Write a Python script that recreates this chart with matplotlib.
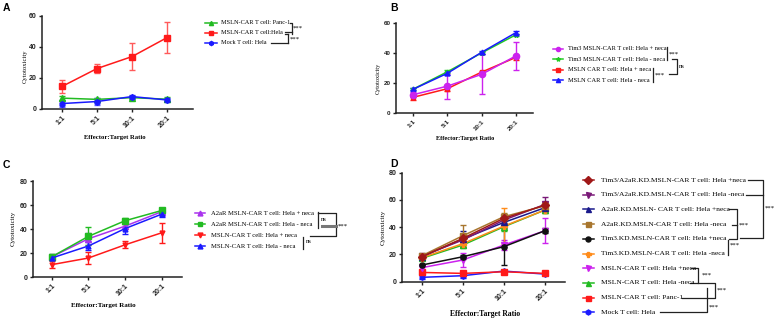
import matplotlib
matplotlib.use("Agg")
import matplotlib.pyplot as plt
from matplotlib.lines import Line2D

W, H = 779, 322
SERIF = "Liberation Serif"
SANS = "Liberation Sans"

ratios = ["1:1", "5:1", "10:1", "20:1"]

# ---- Panel A ----
a_labels = ["MSLN-CAR T cell: Panc-1", "MSLN-CAR T cell:Hela", "Mock T cell: Hela"]
a_panc = [7.0, 6.2, 7.3, 6.3]
a_panc_err = [1.2, 1.0, 0.8, 1.2]
a_hela = [14.5, 26.0, 33.7, 45.9]
a_hela_err = [4.2, 2.8, 8.9, 9.8]
a_mock = [3.5, 4.8, 8.0, 5.8]
a_mock_err = [2.0, 2.2, 0.8, 1.5]

# ---- Panel B ----
b_labels = ["Tim3 MSLN-CAR T cell: Hela + neca", "Tim3 MSLN-CAR T cell: Hela - neca",
            "MSLN CAR T cell: Hela + neca", "MSLN CAR T cell: Hela - neca"]
b_tim3_pos = [12.3, 18.0, 25.8, 38.0]
b_tim3_pos_err = [1.8, 8.2, 13.2, 9.0]
b_tim3_neg = [16.0, 27.5, 40.0, 52.0]
b_tim3_neg_err = [0.8, 1.0, 0.8, 0.8]
b_msln_pos = [10.6, 16.3, 27.3, 37.0]
b_msln_pos_err = [1.5, 1.5, 1.0, 1.5]
b_msln_neg = [15.9, 26.5, 40.4, 53.4]
b_msln_neg_err = [0.8, 1.0, 0.8, 0.8]

# ---- Panel C ----
c_labels = ["A2aR MSLN-CAR T cell: Hela + neca", "A2aR MSLN-CAR T cell: Hela - neca",
            "MSLN-CAR T cell: Hela + neca", "MSLN-CAR T cell: Hela - neca"]
c_a2ar_pos = [17.0, 32.0, 42.5, 54.5]
c_a2ar_pos_err = [2.0, 5.0, 2.0, 2.0]
c_a2ar_neg = [17.0, 34.0, 47.0, 55.5]
c_a2ar_neg_err = [2.5, 7.5, 2.5, 2.0]
c_msln_pos = [10.5, 16.0, 27.0, 37.0]
c_msln_pos_err = [3.0, 5.0, 3.0, 8.5]
c_msln_neg = [16.0, 26.0, 40.5, 52.5]
c_msln_neg_err = [2.0, 3.5, 4.5, 2.0]

# ---- Panel D ----
d_labels = ["Tim3/A2aR.KD.MSLN-CAR T cell: Hela +neca",
            "Tim3/A2aR.KD.MSLN-CAR T cell: Hela -neca",
            "A2aR.KD.MSLN- CAR T cell: Hela +neca",
            "A2aR.KD.MSLN-CAR T cell: Hela -neca",
            "Tim3.KD.MSLN-CAR T cell: Hela +neca",
            "Tim3.KD.MSLN-CAR T cell: Hela -neca",
            "MSLN-CAR T cell: Hela +neca",
            "MSLN-CAR T cell: Hela -neca",
            "MSLN-CAR T cell: Panc-1",
            "Mock T cell: Hela"]
d_tim3a2ar_pos = [18.3, 31.8, 46.5, 56.2]
d_tim3a2ar_pos_err = [1.5, 2.5, 2.0, 2.5]
d_tim3a2ar_neg = [18.8, 30.6, 45.2, 56.7]
d_tim3a2ar_neg_err = [1.5, 2.5, 2.0, 5.5]
d_a2ar_pos = [18.3, 31.3, 43.5, 54.3]
d_a2ar_pos_err = [1.5, 6.0, 2.0, 2.5]
d_a2ar_neg = [19.0, 33.7, 47.7, 55.7]
d_a2ar_neg_err = [1.5, 8.0, 3.0, 2.5]
d_tim3_pos = [12.2, 18.3, 25.7, 37.4]
d_tim3_pos_err = [1.0, 1.5, 13.5, 2.0]
d_tim3_neg = [17.6, 27.9, 40.8, 52.6]
d_tim3_neg_err = [1.5, 2.0, 13.0, 2.0]
d_msln_pos = [10.3, 15.9, 26.9, 37.4]
d_msln_pos_err = [1.0, 5.0, 4.0, 9.0]
d_msln_neg = [17.1, 26.9, 40.3, 52.6]
d_msln_neg_err = [1.5, 2.5, 3.0, 2.0]
d_panc = [6.8, 6.1, 7.3, 6.1]
d_panc_err = [1.0, 1.0, 0.8, 0.8]
d_mock = [3.2, 4.4, 7.8, 5.6]
d_mock_err = [1.5, 2.0, 1.0, 1.0]

fig = plt.figure(figsize=(W / 100, H / 100), dpi=100)


def make_ax(l, r, t, b, xlim, ylim, yticks, tick_fs=5.0):
    ax = fig.add_axes([l / W, 1 - b / H, (r - l) / W, (b - t) / H])
    ax.set_xlim(*xlim)
    ax.set_ylim(*ylim)
    for s in ["top", "right"]:
        ax.spines[s].set_visible(False)
    for s in ["left", "bottom"]:
        ax.spines[s].set_linewidth(1.1)
        ax.spines[s].set_color("#222222")
    ax.set_yticks(yticks)
    ax.set_xticks(range(len(ratios)))
    ax.set_xticklabels(ratios, rotation=45, ha="right", rotation_mode="anchor")
    ax.tick_params(axis="both", direction="out", length=2.5, width=1.0,
                   labelsize=tick_fs, pad=1.5, colors="#222222")
    for lab in ax.get_xticklabels() + ax.get_yticklabels():
        lab.set_fontfamily(SANS)
        lab.set_fontweight("bold")
    ax.patch.set_alpha(0)
    return ax


x = list(range(len(ratios)))


def series(ax, y, e, color, marker, ms=4, ecolor=None, mfc=None):
    ax.errorbar(x, y, yerr=e, color=color, marker=marker, ms=ms, lw=1.1,
                ecolor=ecolor or color, elinewidth=1.0, capsize=2, capthick=1.0,
                mfc=mfc or color, mec=color, zorder=3)


# Panel A
axA = make_ax(42, 193, 15.7, 109, (-0.571, 3.743), (0, 60), [0, 20, 40, 60])
A_style = [("#22bb22", "^"), ("#ff1a1a", "s"), ("#1a1aff", "h")]
series(axA, a_panc, a_panc_err, *A_style[0], ms=4)
series(axA, a_mock, a_mock_err, *A_style[2], ms=4, ecolor="#5a5aff")
series(axA, a_hela, a_hela_err, *A_style[1], ms=4.5, ecolor="#ff5a5a")

# Panel B
axB = make_ax(396, 533, 22.7, 113.3, (-0.5, 3.5), (0, 60), [0, 20, 40, 60], tick_fs=4.5)
B_style = [("#cc22ee", "o"), ("#22cc22", "*"), ("#ff1a1a", "s"), ("#1a1aff", "^")]
series(axB, b_tim3_neg, b_tim3_neg_err, *B_style[1], ms=3.5)
series(axB, b_msln_neg, b_msln_neg_err, *B_style[3], ms=3.5)
series(axB, b_msln_pos, b_msln_pos_err, *B_style[2], ms=3)
series(axB, b_tim3_pos, b_tim3_pos_err, *B_style[0], ms=4.5)

# Panel C
axC = make_ax(33.3, 182, 181, 277.3, (-0.5, 3.55), (0, 80), [0, 20, 40, 60, 80])
C_style = [("#aa33ee", "^"), ("#22bb22", "s"), ("#ff1a1a", "v"), ("#1a1aff", "^")]
series(axC, c_msln_pos, c_msln_pos_err, *C_style[2], ms=3.5)
series(axC, c_a2ar_pos, c_a2ar_pos_err, *C_style[0], ms=4)
series(axC, c_a2ar_neg, c_a2ar_neg_err, *C_style[1], ms=4.5)
series(axC, c_msln_neg, c_msln_neg_err, *C_style[3], ms=3.5)

# Panel D
axD = make_ax(402, 565, 172.7, 281.7, (-0.48, 3.49), (0, 80), [0, 20, 40, 60, 80])
D_style = [("#a01818", "D"), ("#7a1a78", "v"), ("#1a1a8c", "^"), ("#a8762e", "s"),
           ("#111111", "o"), ("#ff8c1a", "P"), ("#cc22ee", "v"), ("#22bb22", "^"),
           ("#ff1a1a", "s"), ("#1a1aff", "h")]
d_data = [(d_tim3a2ar_pos, d_tim3a2ar_pos_err), (d_tim3a2ar_neg, d_tim3a2ar_neg_err),
          (d_a2ar_pos, d_a2ar_pos_err), (d_a2ar_neg, d_a2ar_neg_err),
          (d_tim3_pos, d_tim3_pos_err), (d_tim3_neg, d_tim3_neg_err),
          (d_msln_pos, d_msln_pos_err), (d_msln_neg, d_msln_neg_err),
          (d_panc, d_panc_err), (d_mock, d_mock_err)]
for i in [9, 8, 6, 4, 7, 5, 2, 1, 3, 0]:
    y, e = d_data[i]
    series(axD, y, e, *D_style[i], ms=3.8)

# ---- Overlay for labels, legends, brackets ----
ov = fig.add_axes([0, 0, 1, 1])
ov.set_xlim(0, W)
ov.set_ylim(H, 0)
ov.axis("off")
ov.patch.set_alpha(0)

for txt, px, py in [("A", 3, 8), ("B", 390, 8), ("C", 3, 165), ("D", 390, 164)]:
    ov.text(px, py, txt, fontfamily=SANS, fontweight="bold", fontsize=7.5,
            ha="left", va="center")

for px, py, fs in [(25, 66, 4.8), (378, 78, 4.5), (13, 228, 5.0), (383, 227, 5.0)]:
    ov.text(px, py, "Cytotoxicity", fontfamily=SERIF, fontsize=fs, rotation=90,
            ha="center", va="center")
for px, py, fs in [(115, 137, 4.8), (465, 138, 4.6), (103, 305, 5.0), (485, 314, 5.5)]:
    ov.text(px, py, "Effector:Target Ratio", fontfamily=SERIF, fontweight="bold",
            fontsize=fs, ha="center", va="center")


def legend(labels, styles, x0, x1, xt, y0, dy, fs, ms):
    ys = []
    for i, (lab, (c, m)) in enumerate(zip(labels, styles)):
        y = y0 + dy * i
        ov.add_line(Line2D([x0, x1], [y, y], color=c, lw=1.1))
        ov.plot([(x0 + x1) / 2], [y], marker=m, color=c, ms=ms, mec=c)
        ov.text(xt, y, lab, fontfamily=SERIF, fontsize=fs, ha="left", va="center")
        ys.append(y)
    return ys


def line(xs, ys, lw=0.9, color="#222222"):
    ov.add_line(Line2D(xs, ys, color=color, lw=lw))


def stars(px, py, s="***", fs=4.8):
    ov.text(px, py, s, fontfamily=SERIF, fontsize=fs, ha="left", va="center")


# Legend A
ya = legend(a_labels, A_style, 205, 217, 221, 22.7, 10, 4.5, 3)
line([290, 292, 292], [ya[0], ya[0], ya[1] + 1])
line([285, 292], [ya[1] - 1, ya[1] - 1])
line([285, 288], [ya[1] + 1.5, ya[1] + 1.5])
line([288, 288], [ya[1] + 1.5, ya[2]])
line([271, 288], [ya[2], ya[2]])
stars(293, 27.7)
stars(290, 39.3)

# Legend B
yb = legend(b_labels, B_style, 553, 563, 568, 48.5, 10.5, 4.6, 3)
line([667, 667], [47, 60])
stars(669, 54)
line([653, 653], [68.3, 81.7])
stars(655, 75)
line([672, 676.7, 676.7, 669], [59, 59, 74, 74])
stars(679, 66.7, "ns")

# Legend C
yc = legend(c_labels, C_style, 195, 205, 211, 213, 11, 4.75, 3.5)
line([318, 318], [211.7, 228.3])
stars(320.5, 219.3, "ns")
line([318, 335.7, 335.7, 310], [212.7, 212.7, 236, 236])
line([322, 335.7], [226, 226], lw=2.2, color="#777777")
stars(338, 226)
line([303, 303], [237.3, 249.3])
stars(306, 241.5, "ns")

# Legend D
yd = legend(d_labels, D_style, 583, 594, 600.7, 180, 14.7, 5.4, 3.6)
line([748, 763, 763, 740], [yd[0], yd[0], 238.3, 238.3])
line([746, 763], [yd[1], yd[1]])
stars(765, 208)
line([729, 736.7, 736.7, 729], [yd[2], yd[2], yd[4], yd[4]])
line([731.7, 736.7], [225, 225])
stars(738.5, 225)
line([728.3, 728.3], [240, 255])
stars(730, 245)
line([691, 698.3, 698.3, 690], [yd[6], yd[6], yd[7], yd[7]])
stars(701.5, 275)
line([698.3, 715, 715, 682], [283.3, 283.3, yd[8], yd[8]])
stars(716.7, 290)
line([706.7, 706.7, 660], [288, yd[9], yd[9]])
stars(708.5, 306.7)

fig.savefig("out.png", dpi=100)
